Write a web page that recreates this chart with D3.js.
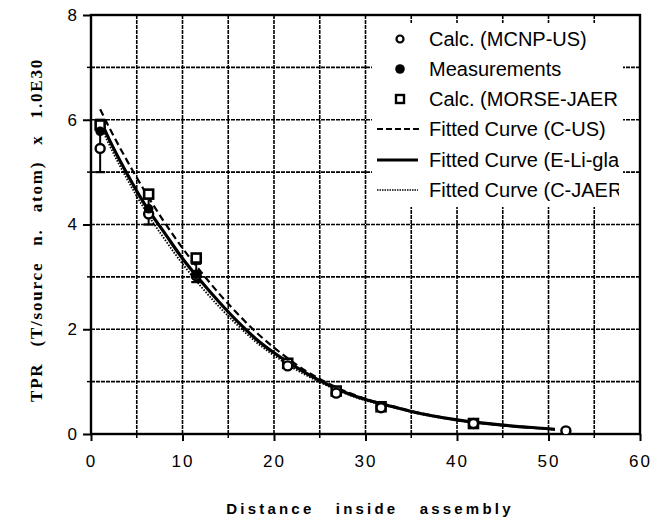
<!DOCTYPE html>
<html><head><meta charset="utf-8">
<script src="https://cdn.jsdelivr.net/npm/d3@7"></script>
<style>body{margin:0;background:#fff}svg{display:block}</style>
</head><body>
<svg id="c" width="660" height="523"></svg>
<script>
// ---- data ----
const xTicks = [0, 10, 20, 30, 40, 50, 60];
const yTicks = [0, 2, 4, 6, 8];
const mcnpX = [1, 6.3, 11.5, 21.5, 26.8, 31.7, 41.8, 51.9];
const mcnpY = [5.45, 4.2, 3.02, 1.3, 0.78, 0.5, 0.2, 0.06];
const measX = [1, 6.3, 11.5];
const measY = [5.78, 4.3, 3.05];
const measLow = [5.0, 4.0, 2.9];
const measHigh = [6.0, 4.6, 3.25];
const morseX = [1, 6.3, 11.5, 21.5, 26.8, 31.7, 41.8];
const morseY = [5.9, 4.58, 3.36, 1.35, 0.82, 0.52, 0.2];
const curveX = [1, 2, 4, 6, 8, 10, 12, 14, 16, 18, 20, 22, 25, 28, 30, 33, 35, 40, 45, 50, 50.7];
const curveUS = [6.2, 5.85, 5.2, 4.6, 4.05, 3.55, 3.1, 2.68, 2.3, 1.95, 1.65, 1.38, 1.05, 0.8, 0.67, 0.53, 0.44, 0.27, 0.17, 0.1, 0.09];
const curveLi = [6.0, 5.62, 4.95, 4.35, 3.85, 3.35, 2.92, 2.52, 2.15, 1.82, 1.55, 1.32, 1.02, 0.78, 0.66, 0.52, 0.43, 0.27, 0.17, 0.1, 0.09];
const curveJA = [5.9, 5.52, 4.85, 4.25, 3.73, 3.25, 2.82, 2.43, 2.08, 1.76, 1.5, 1.27, 0.99, 0.76, 0.64, 0.51, 0.42, 0.26, 0.16, 0.09, 0.08];
const legendLabels = ["Calc. (MCNP-US)", "Measurements", "Calc. (MORSE-JAERI)", "Fitted Curve (C-US)", "Fitted Curve (E-Li-glass)", "Fitted Curve (C-JAERI)"];

const svg = d3.select("#c");
const L = 91, R = 640, T = 15, B = 434;
const x = d3.scaleLinear().domain([0, 60]).range([L, R]);
const y = d3.scaleLinear().domain([0, 8]).range([B, T]);
const ink = "#000";

// grid
const g = svg.append("g");
g.selectAll(".gx").data(d3.range(5, 60, 5)).join("line")
  .attr("x1", d => x(d)).attr("x2", d => x(d)).attr("y1", T).attr("y2", B)
  .attr("stroke", ink).attr("stroke-width", 1.6).attr("stroke-dasharray", "4,1");
g.selectAll(".gy").data(d3.range(1, 8)).join("line")
  .attr("y1", d => y(d)).attr("y2", d => y(d)).attr("x1", L).attr("x2", R)
  .attr("stroke", ink).attr("stroke-width", 1.6).attr("stroke-dasharray", "4,1");

// legend background
svg.append("rect").attr("x", 372).attr("y", 23).attr("width", 251).attr("height", 184).attr("fill", "#fff");

// axes using d3 axis
const xAxis = d3.axisBottom(x).tickValues(xTicks).tickSize(7).tickPadding(14);
const xg = svg.append("g").attr("transform", `translate(0,${B})`).call(xAxis);
const yAxis = d3.axisLeft(y).tickValues(yTicks).tickSize(8).tickPadding(4);
const yg = svg.append("g").attr("transform", `translate(${L},0)`).call(yAxis);
[xg, yg].forEach(a => {
  a.select(".domain").remove();
  a.selectAll("line").attr("stroke", ink).attr("stroke-width", 2);
  a.selectAll("text").attr("fill", ink).style("font-family", "'Liberation Sans', Arial, sans-serif")
    .style("font-size", "17px").style("letter-spacing", "2px");
});
// minor ticks
svg.selectAll(".mx").data(d3.range(5, 60, 10)).join("line")
  .attr("x1", d => x(d)).attr("x2", d => x(d)).attr("y1", B).attr("y2", B + 4)
  .attr("stroke", ink).attr("stroke-width", 1.5);
svg.selectAll(".my").data(d3.range(1, 8, 2)).join("line")
  .attr("y1", d => y(d)).attr("y2", d => y(d)).attr("x1", L).attr("x2", L - 4)
  .attr("stroke", ink).attr("stroke-width", 1.5);

// frame
svg.append("rect").attr("x", L).attr("y", T).attr("width", R - L).attr("height", B - T)
  .attr("fill", "none").attr("stroke", ink).attr("stroke-width", 2.4);

// curves
const line = d3.line().curve(d3.curveMonotoneX);
const mk = arr => line(curveX.map((v, i) => [x(v), y(arr[i])]));
svg.append("path").attr("d", mk(curveLi)).attr("fill", "none").attr("stroke", ink).attr("stroke-width", 3.2);
svg.append("path").attr("d", mk(curveUS)).attr("fill", "none").attr("stroke", ink).attr("stroke-width", 2.2).attr("stroke-dasharray", "7,4");
svg.append("path").attr("d", mk(curveJA)).attr("fill", "none").attr("stroke", ink).attr("stroke-width", 1.8).attr("stroke-dasharray", "1.5,1.5");

// error bars
measX.forEach((v, i) => {
  const cx = x(v);
  svg.append("line").attr("x1", cx).attr("x2", cx).attr("y1", y(measLow[i])).attr("y2", y(measHigh[i]))
    .attr("stroke", ink).attr("stroke-width", 2);
  [measLow[i], measHigh[i]].forEach(e => svg.append("line").attr("x1", cx - 5).attr("x2", cx + 5)
    .attr("y1", y(e)).attr("y2", y(e)).attr("stroke", ink).attr("stroke-width", 2.2));
});

// markers
svg.append("clipPath").attr("id", "pc").append("rect")
  .attr("x", L).attr("y", T).attr("width", R - L).attr("height", B - T);
const mg = svg.append("g").attr("clip-path", "url(#pc)");
mg.selectAll(".sq").data(morseX).join("rect")
  .attr("x", d => x(d) - 4.5).attr("y", (d, i) => y(morseY[i]) - 4.5).attr("width", 9).attr("height", 9)
  .attr("fill", "#fff").attr("stroke", ink).attr("stroke-width", 2.6);
mg.selectAll(".oc").data(mcnpX).join("circle")
  .attr("cx", d => x(d)).attr("cy", (d, i) => y(mcnpY[i])).attr("r", 4.5)
  .attr("fill", "#fff").attr("stroke", ink).attr("stroke-width", 2.4);
mg.selectAll(".fc").data(measX).join("circle")
  .attr("cx", d => x(d)).attr("cy", (d, i) => y(measY[i])).attr("r", 4.8).attr("fill", ink);

// legend
svg.append("clipPath").attr("id", "lc").append("rect").attr("x", 372).attr("y", 23).attr("width", 247).attr("height", 184);
const lg = svg.append("g").attr("clip-path", "url(#lc)");
const rowY = [39, 69, 99, 129, 160, 190];
lg.selectAll("text").data(legendLabels).join("text")
  .attr("x", 429).attr("y", (d, i) => rowY[i] + 7).text(d => d)
  .attr("fill", ink).style("font-family", "'Liberation Sans', Arial, sans-serif").style("font-size", "20px");
lg.append("circle").attr("cx", 400).attr("cy", rowY[0]).attr("r", 3.5).attr("fill", "#fff").attr("stroke", ink).attr("stroke-width", 2.2);
lg.append("circle").attr("cx", 400).attr("cy", rowY[1]).attr("r", 4.8).attr("fill", ink);
lg.append("rect").attr("x", 396).attr("y", rowY[2] - 4).attr("width", 8).attr("height", 8).attr("fill", "#fff").attr("stroke", ink).attr("stroke-width", 2.4);
lg.append("line").attr("x1", 377).attr("x2", 420).attr("y1", rowY[3]).attr("y2", rowY[3]).attr("stroke", ink).attr("stroke-width", 2).attr("stroke-dasharray", "6,3");
lg.append("line").attr("x1", 377).attr("x2", 418).attr("y1", rowY[4]).attr("y2", rowY[4]).attr("stroke", ink).attr("stroke-width", 2.8);
lg.append("line").attr("x1", 377).attr("x2", 418).attr("y1", rowY[5]).attr("y2", rowY[5]).attr("stroke", ink).attr("stroke-width", 1.5).attr("stroke-dasharray", "1.5,1");

// axis titles
svg.append("text").attr("x", 370).attr("y", 514).attr("text-anchor", "middle")
  .text("Distance inside assembly").attr("fill", ink)
  .style("font-family", "'Liberation Sans', Arial, sans-serif").style("font-weight", "bold")
  .style("font-size", "15px").style("letter-spacing", "3.2px").style("word-spacing", "14px");
svg.append("text").attr("transform", "translate(42,230) rotate(-90)").attr("text-anchor", "middle")
  .text("TPR (T/source n. atom) x 1.0E30").attr("fill", ink)
  .style("font-family", "'Liberation Serif', 'Times New Roman', serif").style("font-weight", "bold")
  .style("font-size", "17px").style("letter-spacing", "1.8px").style("word-spacing", "10px");
</script>
</body></html>
